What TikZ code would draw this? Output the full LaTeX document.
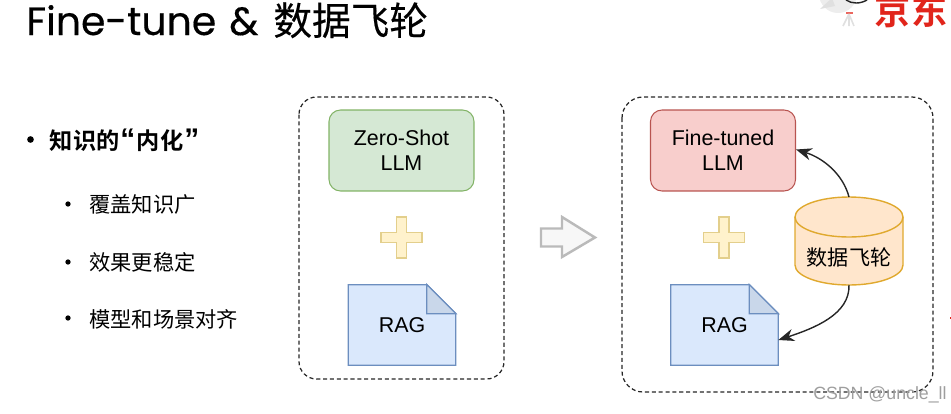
\documentclass[tikz,border=0pt]{standalone}
\usepackage{fontspec}
\setmainfont{Liberation Sans}
\newfontfamily\titlefont[FakeBold=0.35]{Poppins}
\newfontfamily\cjk{Noto Sans CJK SC}
\newfontfamily\cjktitle[FakeBold=0.25]{Noto Sans CJK SC}
\newfontfamily\cjkbold{Noto Sans CJK SC Bold}
\usepackage{tikz}
\usetikzlibrary{arrows.meta, calc}
\usepackage{xcolor}
\definecolor{llmgreen}{HTML}{D5E8D4}
\definecolor{llmgreenline}{HTML}{82B366}
\definecolor{llmred}{HTML}{F8CECC}
\definecolor{llmredline}{HTML}{B85450}
\definecolor{ragblue}{HTML}{DAE8FC}
\definecolor{ragblueline}{HTML}{6C8EBF}
\definecolor{ragfold}{HTML}{C9D7EA}
\definecolor{plusyellow}{HTML}{FFF2CC}
\definecolor{plusline}{HTML}{E3CF8C}
\definecolor{wheelorange}{HTML}{FFE6CC}
\definecolor{wheelline}{HTML}{E0A92E}
\definecolor{logored}{HTML}{E1251B}
\tikzset{
    llmbox/.style={rectangle, rounded corners=6.5pt, minimum width=2.9cm, minimum height=1.62cm,
        align=center, font=\fontsize{12.2}{14.2}\selectfont, line width=0.6pt},
    groupbox/.style={rectangle, rounded corners=10pt, draw=black!85, dash pattern=on 2.3pt off 1.6pt, line width=0.7pt, minimum height=1cm},
    ragbox/.style={minimum width=2.14cm, minimum height=1.6cm, font=\fontsize{12.2}{14.2}\selectfont},
    pluspart/.style={fill=plusyellow, draw=plusline, line width=0.8pt},
    topic/.style={anchor=west, font=\cjkbold\fontsize{13.2}{15}\selectfont},
    subtopic/.style={anchor=west, font=\cjk\fontsize{12.1}{14}\selectfont},
    dotmark/.style={circle, fill=black, inner sep=0pt, minimum size=#1},
    loopline/.style={-{Stealth[length=9pt,width=7pt]}, line width=0.8pt, black!85}
}
% note shape with a folded corner
\newcommand{\ragnote}[2]{
    \node[ragbox] (#1) at (#2) {RAG};
    \draw[fill=ragblue, draw=ragblueline, line width=0.7pt] (#1.north west) -- ($(#1.north east)+(-29,0)$)
        -- ($(#1.north east)+(0,29)$) -- (#1.south east) -- (#1.south west) -- cycle;
    \draw[fill=ragfold, draw=ragblueline, line width=0.7pt] ($(#1.north east)+(-29,0)$)
        -- ($(#1.north east)+(-29,29)$) -- ($(#1.north east)+(0,29)$) -- cycle;
    \node[ragbox] at (#1) {RAG};
}
\newcommand{\plusmark}[1]{
    \draw[pluspart] ($(#1)+(-5,-20.5)$) -- ($(#1)+(5,-20.5)$) -- ($(#1)+(5,-5)$) -- ($(#1)+(20.5,-5)$)
        -- ($(#1)+(20.5,5)$) -- ($(#1)+(5,5)$) -- ($(#1)+(5,20.5)$) -- ($(#1)+(-5,20.5)$)
        -- ($(#1)+(-5,5)$) -- ($(#1)+(-20.5,5)$) -- ($(#1)+(-20.5,-5)$) -- ($(#1)+(-5,-5)$) -- cycle;
}
\newcommand{\bigquote}[1]{{\rmfamily\bfseries\fontsize{17}{15}\selectfont #1}}
\begin{document}
\begin{tikzpicture}[x=0.02cm, y=-0.02cm]
    \useasboundingbox (0,0) rectangle (951,413);

    \node[anchor=base west, inner sep=0pt] (title) at (26,35)
        {\titlefont\fontsize{22.4}{26}\selectfont Fine-tune\hspace{1.5pt} \&\hspace{2.5pt} {\cjktitle\fontsize{22}{26}\selectfont 数据飞轮}};

    % logo
    \fill[black!7] (838,-6) ellipse (19 and 19);
    \fill[black!12] (820,9) -- (832,-2) -- (835,6) -- cycle;
    \draw[black!85, line width=0.8pt] (846,0) .. controls (852,4) and (860,4) .. (867,0);
    \draw[logored!70, line width=0.6pt] (846,13) -- (853,13);
    \draw[black!12, line width=0.9pt] (849,14) -- (843,26) (849,14) -- (849,26) (849,14) -- (854,26);
    \node[anchor=base, inner sep=0pt, text=logored, font=\cjkbold\fontsize{20.6}{24}\selectfont] (logo) at (911,24) {京东};

    % left list
    \node[dotmark=3.8pt] (b0) at (30.5,139.5) {};
    \node[topic, inner sep=0pt] (t0) at (49.5,140) {知识的\hspace{0.6pt}\bigquote{“}\hspace{0.8pt}内化\hspace{0.6pt}\bigquote{”}};
    \node[dotmark=3pt] (b1) at (68,204) {};
    \node[subtopic, inner sep=0pt] (t1) at (89,205) {覆盖知识广};
    \node[dotmark=3pt] (b2) at (68,262) {};
    \node[subtopic, inner sep=0pt] (t2) at (89,262) {效果更稳定};
    \node[dotmark=3pt] (b3) at (68,318) {};
    \node[subtopic, inner sep=0pt] (t3) at (89,319) {模型和场景对齐};

    % before
    \draw[groupbox] (299,97) rectangle (504,379);
    \node[llmbox, draw=llmgreenline, fill=llmgreen] (zeroshot) at (401.5,150.5) {Zero-Shot\\LLM};
    \coordinate (plusA) at (401.5,237.5);
    \plusmark{plusA}
    \ragnote{ragA}{402,325}

    \draw[black!27, fill=black!3, line width=1.4pt] (541,228.5) -- (562,228.5) -- (562,217) -- (595,237.5)
        -- (562,257) -- (562,246.5) -- (541,246.5) -- cycle;

    % after
    \draw[groupbox, rounded corners=12pt] (622,97) rectangle (933,392);
    \node[llmbox, draw=llmredline, fill=llmred] (finetuned) at (723,150.5) {Fine-tuned\\LLM};
    \coordinate (plusB) at (724,237.5);
    \plusmark{plusB}
    \ragnote{ragB}{724.5,325}

    % data store
    \coordinate (wheeltop) at (849,197);
    \coordinate (wheelbottom) at (849,285);
    \draw[fill=wheelorange, draw=wheelline, line width=0.8pt] (795,217) -- (795,265)
        .. controls (795,276) and (819,285) .. (wheelbottom) .. controls (879,285) and (903,276) .. (903,265)
        -- (903,217) .. controls (903,206) and (879,197) .. (wheeltop) .. controls (819,197) and (795,206) .. cycle;
    \draw[draw=wheelline, line width=0.8pt] (795,217) .. controls (795,228) and (819,237) .. (849,237)
        .. controls (879,237) and (903,228) .. (903,217);
    \node[font=\cjk\fontsize{12}{14}\selectfont, inner sep=0pt] (wheel) at (849,257) {数据飞轮};

    \draw[loopline] (wheeltop) .. controls (843,174) and (823,158) .. ($(finetuned.east)+(0,-1)$);
    \draw[loopline] (wheelbottom) .. controls (850,314) and (815,328) .. ($(ragB.east)+(0,15)$);

    \node[anchor=east, inner sep=0pt, text=black!38, font=\fontsize{10.1}{12}\selectfont] (mark) at (947,395) {CSDN @uncle\_ll};
    \fill[logored] (949.5,317) rectangle (951,319);
\end{tikzpicture}
\end{document}
